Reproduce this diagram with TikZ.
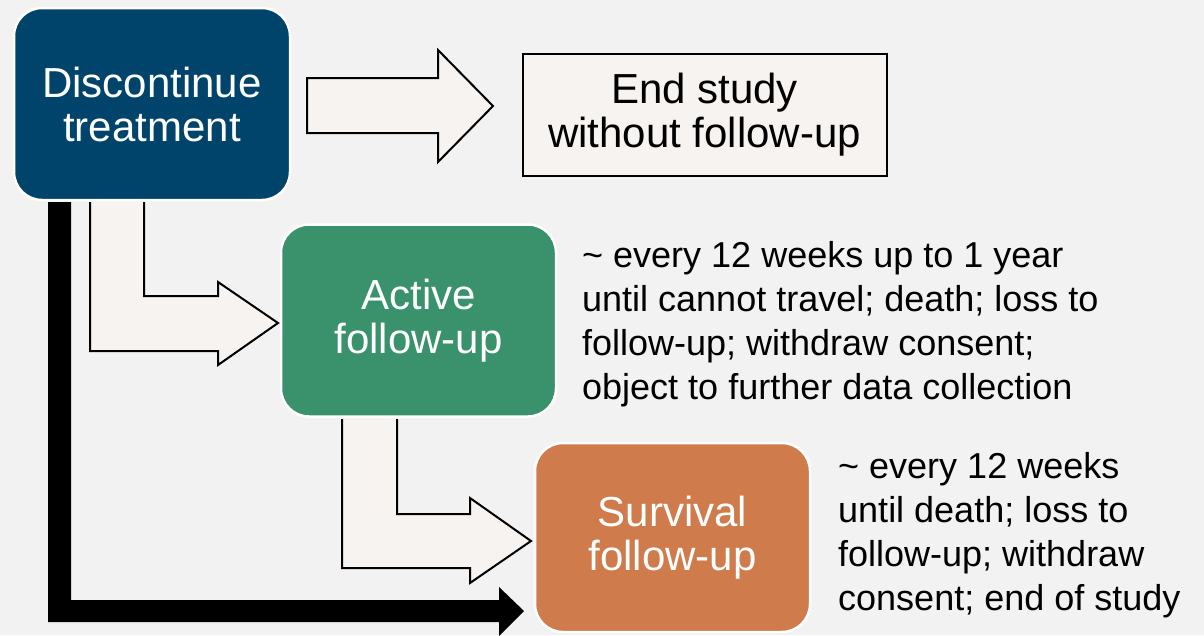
\documentclass[tikz,border=0pt]{standalone}
\usepackage{fontspec}
\setmainfont{Liberation Sans}
\definecolor{bg}{HTML}{F2F2F2}
\definecolor{navy}{HTML}{00446C}
\definecolor{grn}{HTML}{3A926D}
\definecolor{org}{HTML}{CF7B4C}
\definecolor{arr}{HTML}{F6F3F0}
\tikzset{
  rbox/.style={draw=white, line width=2.5pt, rounded corners=28pt, text=white,
    align=center, font=\fontsize{42}{44}\selectfont, inner sep=0pt},
  sidetext/.style={anchor=base west, inner sep=0pt, font=\fontsize{36}{43.5}\selectfont},
  blockarrow/.style={fill=arr, draw=black, line width=2pt, line join=miter},
}
\newcommand{\lines}[1]{\vtop{\baselineskip=44pt #1}}
\begin{document}
\begin{tikzpicture}[x=1pt,y=-1pt]
\fill[bg] (0,0) rectangle (1204,635);
\useasboundingbox (0,0) rectangle (1204,635);

% nodes
\node[rbox, fill=navy, minimum width=276pt, minimum height=192pt] (disc) at (152,104) {Discontinue\\treatment};
\node[draw=black, line width=2pt, fill=arr, minimum width=364pt, minimum height=122pt,
      align=center, font=\fontsize{42}{44}\selectfont, inner sep=0pt] (end) at (704.5,114.5) {End study\\without follow-up};
\node[rbox, fill=grn, minimum width=275pt, minimum height=192pt] (act) at (418.5,320.5) {Active\\follow-up};
\node[rbox, fill=org, minimum width=275pt, minimum height=189pt] (surv) at (672.5,537.5) {Survival\\follow-up};

% side texts
\node[sidetext] (acttxt) at (582,267) {\lines{\hbox{\~{} every 12 weeks up to 1 year}\hbox{until cannot travel; death; loss to}\hbox{follow-up; withdraw consent;}\hbox{object to further data collection}}};
\node[sidetext] (survtxt) at (838,478) {\lines{\hbox{\~{} every 12 weeks}\hbox{until death; loss to}\hbox{follow-up; withdraw}\hbox{consent; end of study}}};

% block arrow disc -> end
\draw[blockarrow] (307,78) -- (438,78) -- (438,50) -- (493,106) -- (438,162) -- (438,133) -- (307,133) -- cycle;

% L arrow disc -> act
\fill[arr] (90,202) -- (144,202) -- (144,296) -- (218,296) -- (218,282) -- (278,323) -- (218,365) -- (218,351) -- (90,351) -- cycle;
\draw[line width=2pt, line join=miter] (144,202) -- (144,296) -- (218,296) -- (218,282) -- (278,323) -- (218,365) -- (218,351) -- (90,351) -- (90,202);

% L arrow act -> surv
\fill[arr] (342,419) -- (397,419) -- (397,514) -- (470,514) -- (470,498) -- (531,541) -- (470,583) -- (470,568) -- (342,568) -- cycle;
\draw[line width=2pt, line join=miter] (397,419) -- (397,514) -- (470,514) -- (470,498) -- (531,541) -- (470,583) -- (470,568) -- (342,568) -- (342,419);

% black arrow disc -> surv
\fill[black] (48,202) -- (71,202) -- (71,600) -- (499,600) -- (499,587) -- (524,611) -- (499,636) -- (499,622) -- (48,622) -- cycle;
\end{tikzpicture}
\end{document}
